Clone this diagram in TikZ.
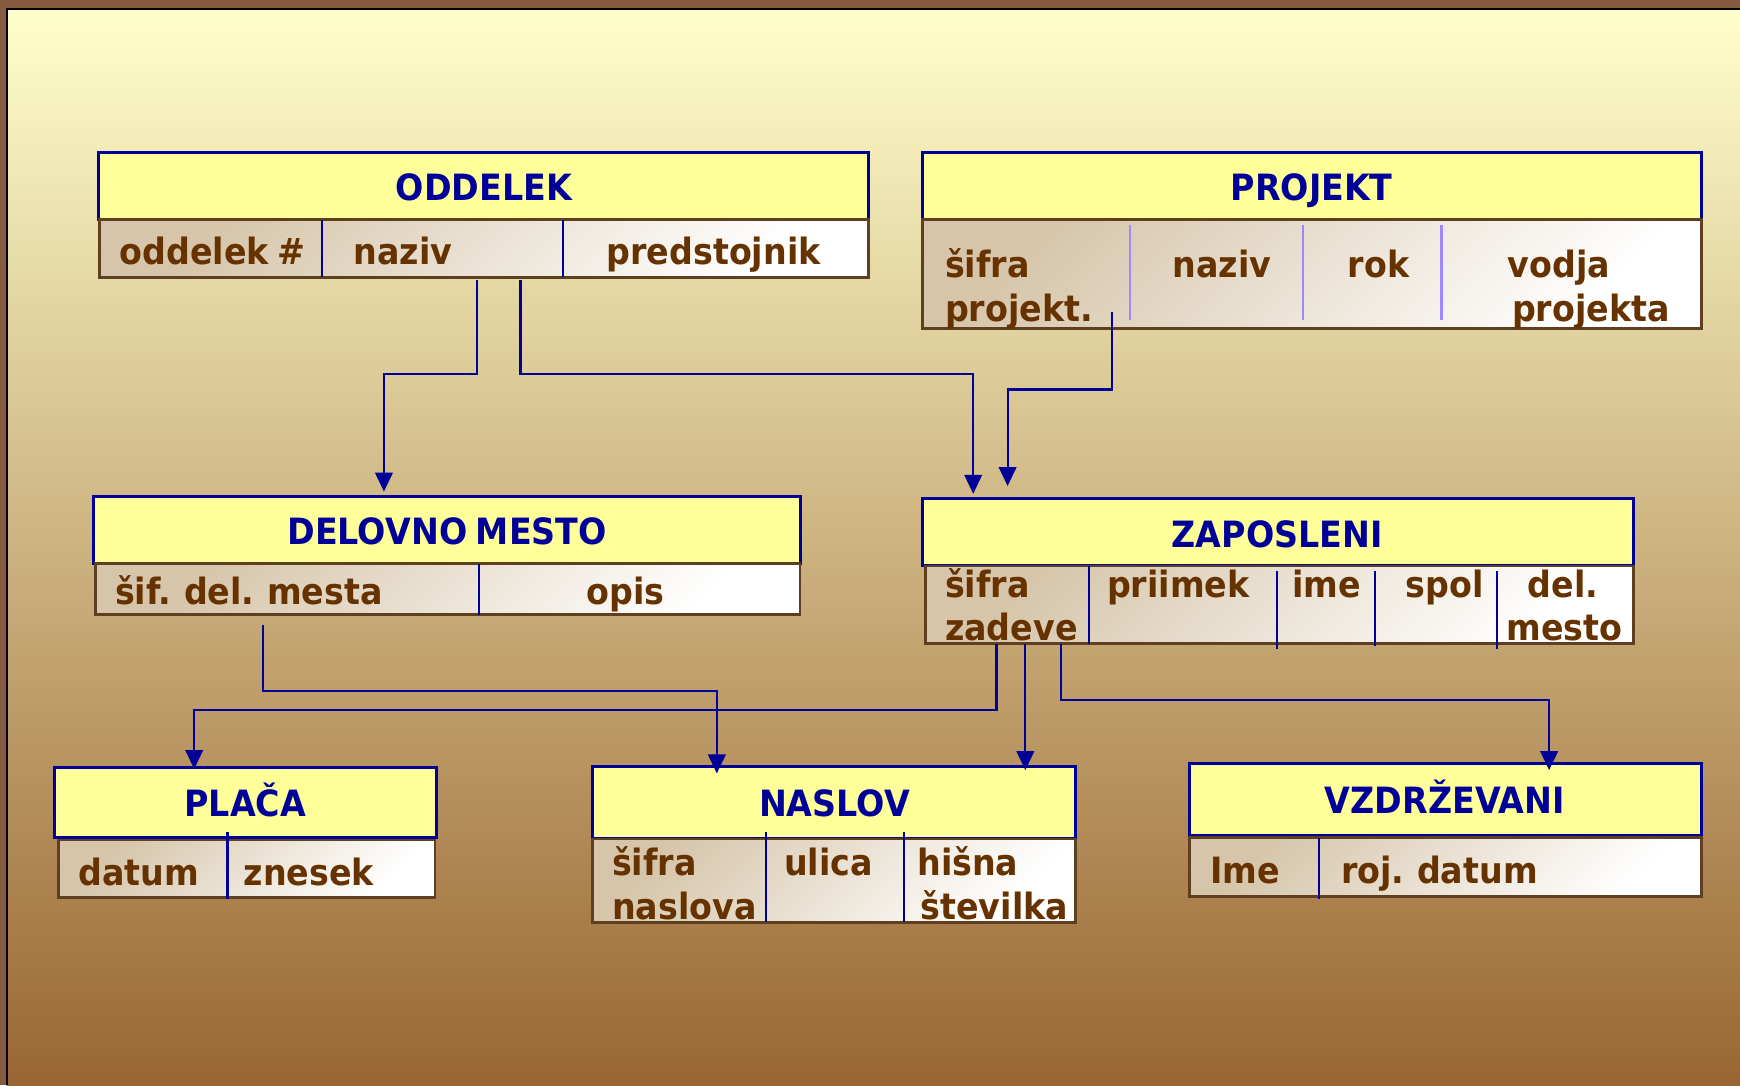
\documentclass[tikz,border=0pt]{standalone}
\usepackage{fontspec}
\setmainfont[FakeStretch=0.92, WordSpace=0.75]{DejaVu Sans}
\usetikzlibrary{arrows.meta, fit}

\definecolor{wood}{HTML}{865A3F}
\definecolor{bgtop}{HTML}{FFFFCC}
\definecolor{bgmid}{HTML}{DDD0A0}
\definecolor{bgbot}{HTML}{996633}
\definecolor{hdrfill}{HTML}{FFFF99}
\definecolor{navy}{HTML}{000099}
\definecolor{brownink}{HTML}{663300}
\definecolor{fieldtop}{HTML}{D6C5AA}
\definecolor{rim}{HTML}{5E3F1F}
\definecolor{lilac}{HTML}{9F88FF}

\begin{document}
\begin{tikzpicture}[x=0.11097mm, y=-0.11097mm,
                    >={Triangle[width=5pt, length=5.4pt]},
                    every node/.style = {font=\fontsize{10.3pt}{12.6pt}\selectfont\bfseries},
                    box/.style   = {draw=navy, fill=hdrfill, line width=0.85pt, inner sep=0pt},
                    row/.style   = {draw=rim, line width=0.8pt, inner sep=0pt,
                                    top color=fieldtop, bottom color=white, shading angle=45},
                    title/.style = {anchor=base, text=navy, inner sep=0pt},
                    item/.style  = {anchor=base west, text=brownink, inner sep=0pt},
                    sep/.style   = {navy, line width=0.6pt},
                    link/.style  = {->, navy, line width=0.6pt}
                   ]
     \useasboundingbox (0,0) rectangle (1568,978);
     \fill[wood] (0,0) rectangle (1568,978);
     \shade[top color=bgtop, middle color=bgmid, bottom color=bgbot] (6,8) rectangle (1568,978);
     \draw[black, line width=0.6pt] (6,978) -- (6,8) -- (1568,8);

     % ODDELEK
     \node[box, fit={(89,137) (783,198)}] (oddelek) {};
     \node[row, fit={(90,198) (783,250)}] (oddelekR) {};
     \draw[sep] (290,198) -- (290,250);
     \draw[sep] (507,198) -- (507,250);
     \node[title] (oddelekT) at (436,181) {ODDELEK};
     \node[item] (oddSif)  at (107,238) {oddelek \#};
     \node[item] (oddNaz)  at (318,238) {naziv};
     \node[item] (oddPred) at (546,238) {predstojnik};

     % PROJEKT
     \node[box, fit={(831,137) (1533,198)}] (projekt) {};
     \node[row, fit={(831,198) (1533,296)}] (projektR) {};
     \draw[lilac, line width=0.6pt] (1018,203) -- (1018,288);
     \draw[lilac, line width=0.6pt] (1174,203) -- (1174,288);
     \draw[lilac, line width=0.6pt] (1299,203) -- (1299,288);
     \node[title] (projektT) at (1182,181) {PROJEKT};
     \node[item] (prjSifA)  at (851,250)  {šifra};
     \node[item] (prjSifB)  at (851,290)  {projekt.};
     \node[item] (prjNaz)   at (1056,250) {naziv};
     \node[item] (prjRok)   at (1214,250) {rok};
     \node[item] (prjVodA)  at (1358,250) {vodja};
     \node[item] (prjVodB)  at (1362,290) {projekta};

     % DELOVNO MESTO
     \node[box, fit={(84,447) (721,508)}] (delmesto) {};
     \node[row, fit={(86,508) (721,554)}] (delmestoR) {};
     \draw[sep] (432,508) -- (432,554);
     \node[title] (delmestoT) at (403,491) {DELOVNO MESTO};
     \node[item] (dmSif)  at (103,545) {šif. del. mesta};
     \node[item] (dmOpis) at (528,545) {opis};

     % ZAPOSLENI
     \node[box, fit={(831,449) (1472,510)}] (zaposleni) {};
     \node[row, fit={(834,510) (1472,580)}] (zaposleniR) {};
     \draw[sep] (981,510) -- (981,580);
     \draw[sep] (1151,515) -- (1151,585);
     \draw[sep] (1239,515) -- (1239,582);
     \draw[sep] (1349,515) -- (1349,585);
     \node[title] (zaposleniT) at (1151,493) {ZAPOSLENI};
     \node[item] (zapSifA) at (851,538)  {šifra};
     \node[item] (zapSifB) at (851,577)  {zadeve};
     \node[item] (zapPri)  at (997,538)  {priimek};
     \node[item] (zapIme)  at (1164,538) {ime};
     \node[item] (zapSpol) at (1266,538) {spol};
     \node[item] (zapDelA) at (1376,538) {del.};
     \node[item] (zapDelB) at (1357,577) {mesto};

     % PLACA
     \node[box, fit={(49,692) (393,755)}] (placa) {};
     \node[row, fit={(53,757) (392,809)}] (placaR) {};
     \draw[sep] (205,750) -- (205,810);
     \node[title] (placaT) at (221,736) {PLAČA};
     \node[item] (plDat) at (70,798)  {datum};
     \node[item] (plZne) at (219,798) {znesek};

     % NASLOV
     \node[box, fit={(534,691) (969,756)}] (naslov) {};
     \node[row, fit={(534,756) (969,831)}] (naslovR) {};
     \draw[sep] (690,750) -- (690,831);
     \draw[sep] (815,750) -- (815,831);
     \node[title] (naslovT) at (752,736) {NASLOV};
     \node[item] (nasSifA) at (551,789) {šifra};
     \node[item] (nasSifB) at (551,829) {naslova};
     \node[item] (nasUl)   at (706,789) {ulica};
     \node[item] (nasHisA) at (826,789) {hišna};
     \node[item] (nasHisB) at (829,829) {številka};

     % VZDRZEVANI
     \node[box, fit={(1072,688) (1533,753)}] (vzdrz) {};
     \node[row, fit={(1072,755) (1533,808)}] (vzdrzR) {};
     \draw[sep] (1189,755) -- (1189,810);
     \node[title] (vzdrzT) at (1302,733) {VZDRŽEVANI};
     \node[item] (vzIme) at (1090,796) {Ime};
     \node[item] (vzRoj) at (1208,796) {roj. datum};

     % connectors
     \coordinate (oddA) at (430,252);
     \coordinate (oddB) at (469,252);
     \coordinate (prjA) at (1002,281);
     \coordinate (dmA)  at (237,563);
     \coordinate (zapA) at (898,580);
     \coordinate (zapB) at (924,580);
     \coordinate (zapC) at (956,580);

     \coordinate (dmIn)   at (346,443);
     \coordinate (zapIn)  at (877,445);
     \coordinate (zapIn2) at (908,438);
     \coordinate (nasIn)  at (646,697);
     \coordinate (nasIn2) at (924,694);
     \coordinate (plIn)   at (175,693);
     \coordinate (vzIn)   at (1396,694);

     \draw[link] (oddA) -- ++(0,85) -| (dmIn);
     \draw[link] (oddB) -- ++(0,85) -| (zapIn);
     \draw[link] (prjA) -- ++(0,70) -| (zapIn2);
     \draw[link] (dmA)  -- ++(0,60) -| (nasIn);
     \draw[link] (zapA) -- ++(0,60) -| (plIn);
     \draw[link] (zapB) -- (nasIn2);
     \draw[link] (zapC) -- ++(0,51) -| (vzIn);
\end{tikzpicture}
\end{document}
